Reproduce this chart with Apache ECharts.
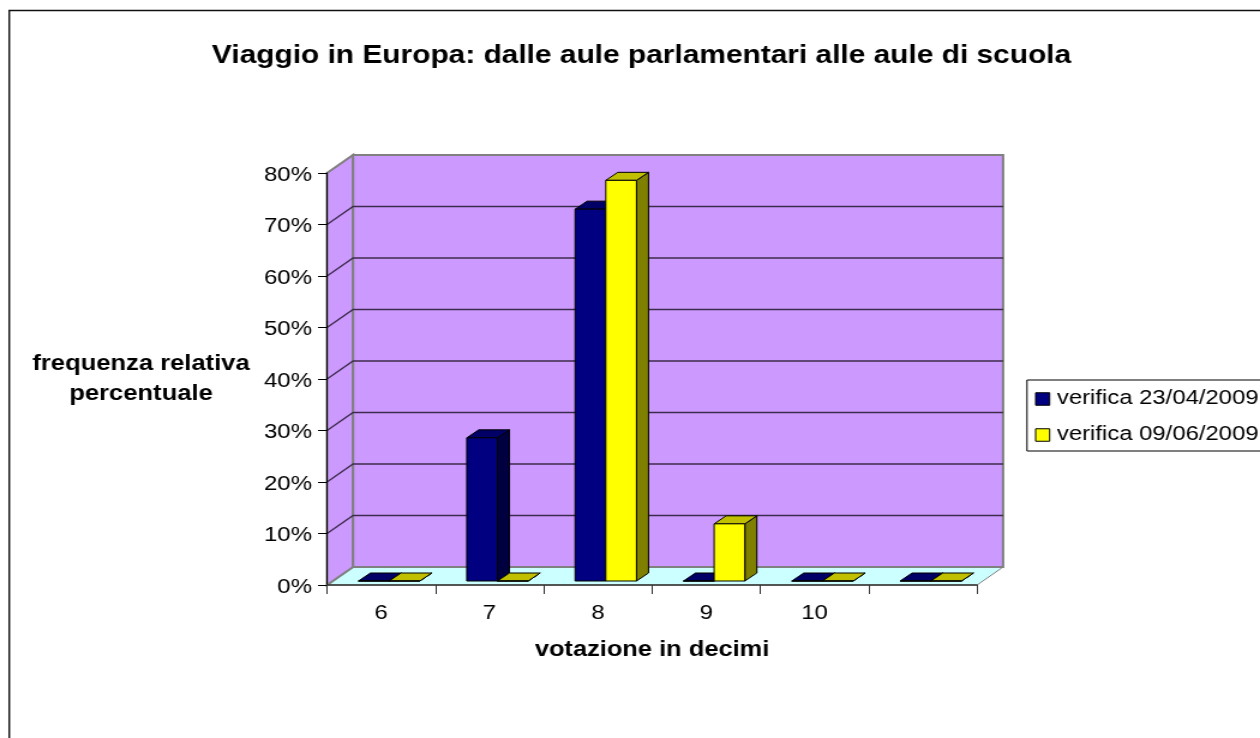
<!DOCTYPE html>
<html>
<head>
<meta charset="utf-8">
<title>Viaggio in Europa</title>
<script src="https://cdn.jsdelivr.net/npm/echarts@6/dist/echarts.min.js"></script>
<style>
  html, body { margin: 0; padding: 0; background: #fff; overflow: hidden; }
  /* the original picture is stretched sideways, so the chart is too */
  #main { width: 1050px; height: 738px; transform: scaleX(1.2); transform-origin: 0 0; }
</style>
</head>
<body>
<div id="main"></div>
<script type="text/javascript">
var titleText = 'Viaggio in Europa: dalle aule parlamentari alle aule di scuola';
var categories = ['6', '7', '8', '9', '10', ''];
var seriesNames = ['verifica 23/04/2009', 'verifica 09/06/2009'];
var values1 = [0, 27.8, 72.2, 0, 0, 0];
var values2 = [0, 0, 77.8, 11.1, 0, 0];
var yTicks = [10, 20, 30, 40, 50, 60, 70, 80];

var font = '"Liberation Sans", Arial, sans-serif';
// depth of the box and of the bars, in px
var wallDx = 21.7, wallDy = -18;
var barDx = 10, barDy = -8, barW = 25.6, barLift = 4, barStart = -19;

var myChart = echarts.init(document.getElementById('main'));

function poly(points, fill, stroke, width) {
  return {
    type: 'polygon',
    shape: { points: points },
    style: { fill: fill, stroke: stroke, lineWidth: width }
  };
}

// walls, floor and gridlines of the box
function renderBox(params, api) {
  var g = params.coordSys;
  var x0 = g.x, x1 = g.x + g.width, y0 = g.y, y1 = g.y + g.height;
  var kids = [
    poly([[x0, y1], [x0 + wallDx, y1 + wallDy], [x1 + wallDx, y1 + wallDy], [x1, y1]], '#ccffff', '#808080', 1),
    poly([[x0, y0], [x0 + wallDx, y0 + wallDy], [x0 + wallDx, y1 + wallDy], [x0, y1]], '#cc99ff', '#808080', 2),
    poly([[x0 + wallDx, y0 + wallDy], [x1 + wallDx, y0 + wallDy], [x1 + wallDx, y1 + wallDy], [x0 + wallDx, y1 + wallDy]], '#cc99ff', '#808080', 2)
  ];
  for (var i = 0; i < yTicks.length - 1; i++) {
    var y = api.coord([0, yTicks[i]])[1];
    kids.push({
      type: 'polyline',
      shape: { points: [[x0, y], [x0 + wallDx, y + wallDy], [x1 + wallDx, y + wallDy]] },
      style: { fill: null, stroke: '#3c2c4c', lineWidth: 1.3 }
    });
  }
  kids.push({
    type: 'line',
    shape: { x1: x0, y1: y1, x2: x0 + wallDx, y2: y1 + wallDy },
    style: { stroke: '#808080', lineWidth: 1 }
  });
  return { type: 'group', children: kids };
}

function barRenderer(front, top, side, slot) {
  return function (params, api) {
    var c = api.coord([api.value(0), api.value(1)]);
    var base = api.coord([api.value(0), 0]);
    var xa = c[0] + barStart + slot * barW;
    var xb = xa + barW;
    var yt = c[1] - barLift;
    var yb = base[1] - barLift;
    return {
      type: 'group',
      children: [
        poly([[xb, yb], [xb + barDx, yb + barDy], [xb + barDx, yt + barDy], [xb, yt]], side, '#000', 1),
        poly([[xa, yt], [xa + barDx, yt + barDy], [xb + barDx, yt + barDy], [xb, yt]], top, '#000', 1),
        poly([[xa, yb], [xb, yb], [xb, yt], [xa, yt]], front, '#000', 1)
      ]
    };
  };
}

function toData(values) {
  var d = [];
  for (var i = 0; i < values.length; i++) {
    d.push([i, values[i]]);
  }
  return d;
}

var option = {
  animation: false,
  backgroundColor: '#fff',
  title: {
    text: titleText,
    left: 534.6,
    top: 44,
    padding: 0,
    textAlign: 'center',
    textStyle: { fontFamily: font, fontWeight: 'bold', fontSize: 24.9, color: '#000' }
  },
  legend: {
    orient: 'vertical',
    left: 855.8,
    top: 380,
    padding: [9, 6, 6, 6.7],
    itemGap: 16,
    itemWidth: 11.7,
    itemHeight: 12.5,
    icon: 'rect',
    borderColor: '#000',
    borderWidth: 1,
    backgroundColor: '#fff',
    itemStyle: { borderColor: '#000', borderWidth: 1 },
    textStyle: { fontFamily: font, fontSize: 19.9, color: '#000', padding: [0, 0, 0, 1] },
    data: seriesNames
  },
  grid: { left: 272.5, right: 235.8, top: 173, bottom: 153 },
  xAxis: {
    type: 'category',
    data: categories,
    z: 3,
    axisLine: { lineStyle: { color: '#333', width: 1.5 } },
    axisTick: { show: true, length: 9, lineStyle: { color: '#333', width: 1 } },
    axisLabel: { interval: 0, margin: 18, fontFamily: font, fontSize: 20, color: '#000' },
    name: 'votazione in decimi',
    nameLocation: 'middle',
    nameGap: 55,
    nameTextStyle: { fontFamily: font, fontWeight: 'bold', fontSize: 21.2, color: '#000' }
  },
  yAxis: {
    type: 'value',
    min: 0,
    max: 80,
    interval: 10,
    z: 3,
    splitLine: { show: false },
    axisLine: { show: true, lineStyle: { color: '#000', width: 1 } },
    axisTick: { show: true, length: 7.5, lineStyle: { color: '#000', width: 1 } },
    axisLabel: {
      margin: 12.5,
      formatter: '{v|{value}%}',
      rich: { v: { fontFamily: font, fontSize: 20, color: '#000', padding: [4, 0, 0, 0] } }
    },
    name: 'frequenza relativa\npercentuale',
    nameLocation: 'middle',
    nameRotate: 0,
    nameGap: 155,
    nameTextStyle: { fontFamily: font, fontWeight: 'bold', fontSize: 21.3, lineHeight: 29.5, align: 'center', verticalAlign: 'middle', color: '#000' }
  },
  graphic: [{
    type: 'rect',
    z: -1,
    shape: { x: 7.7, y: 10.5, width: 1100, height: 800 },
    style: { fill: null, stroke: '#111', lineWidth: 1.4 }
  }],
  series: [
    { type: 'custom', z: 1, silent: true, data: [[0, 0]], renderItem: renderBox, encode: { x: 0, y: 1 } },
    {
      name: seriesNames[0], type: 'custom', z: 4, data: toData(values1),
      itemStyle: { color: '#000080' }, encode: { x: 0, y: 1 },
      renderItem: barRenderer('#000080', '#000066', '#000040', 0)
    },
    {
      name: seriesNames[1], type: 'custom', z: 5, data: toData(values2),
      itemStyle: { color: '#ffff00' }, encode: { x: 0, y: 1 },
      renderItem: barRenderer('#ffff00', '#c0c000', '#808000', 1)
    }
  ]
};
myChart.setOption(option);
</script>
</body>
</html>
